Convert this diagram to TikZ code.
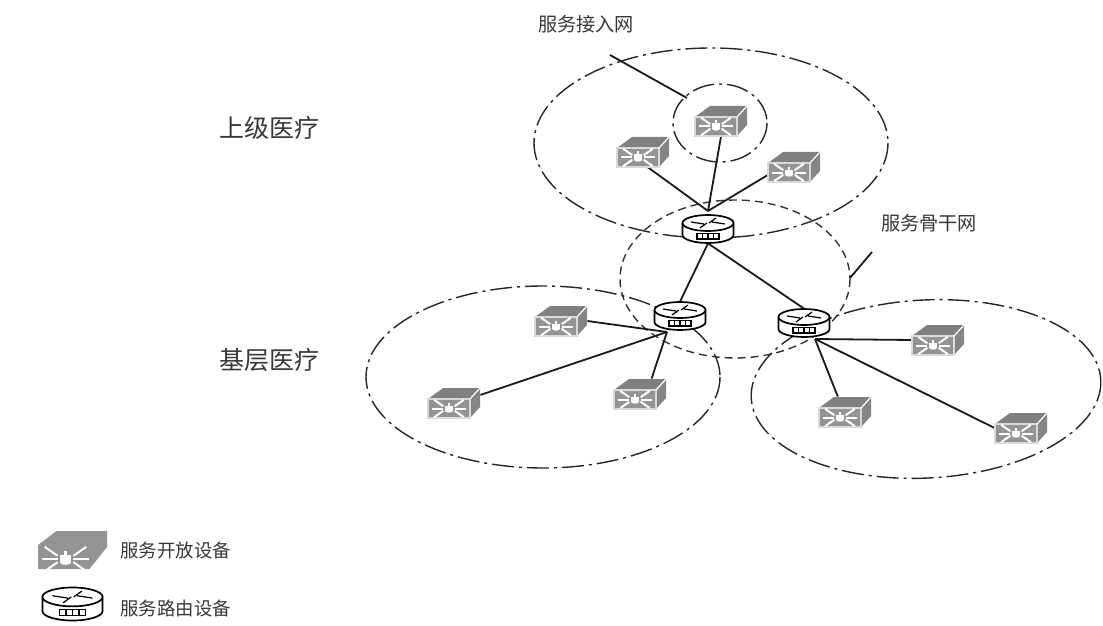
\documentclass[tikz,border=0pt]{standalone}
\usepackage{fontspec}
\setmainfont{Noto Sans CJK SC}
\usetikzlibrary{positioning, arrows.meta}
\definecolor{devfront}{gray}{0.58}
\definecolor{devtop}{gray}{0.5}
\definecolor{devside}{gray}{0.52}
\definecolor{inktext}{gray}{0.22}
\tikzset{
zone/.style={draw=black!85, line width=0.7pt, dash pattern=on 11pt off 2.5pt on 1.5pt off 2.5pt},
bonezone/.style={draw=black!80, line width=0.7pt, dash pattern=on 4pt off 2.5pt},
link/.style={draw=black!90, line width=0.9pt},
devnode/.style={shape=rectangle, minimum width=26pt, minimum height=15pt, inner sep=0},
routernode/.style={shape=rectangle, minimum width=26pt, minimum height=14pt, inner sep=0},
bigtext/.style={font=\fontsize{12.5}{14}\selectfont, text=inktext, inner sep=0},
midtext/.style={font=\fontsize{9.6}{12}\selectfont, text=inktext, inner sep=0},
keytext/.style={font=\fontsize{9.2}{12}\selectfont, text=inktext, inner sep=0},
devrays/.pic={
  \fill [white] (-5.5,-4) rectangle (5.5,3);
  \fill [white] (0,3) ellipse [x radius=5.5, y radius=2.5];
  \fill [white] (-1.2,-8) rectangle (1.2,-4);
  \foreach \ang/\off in {35/3, 0/0, -35/-3}{
    \draw [white, line width=1pt] (7.5,\off) -- +(\ang:15);
    \draw [white, line width=1pt] (-7.5,\off) -- +(180-\ang:15);
  }
},
devbox/.pic={
  \fill [devtop] (-26,-4) -- (-11,-15) -- (26,-15) -- (16,-4) -- cycle;
  \fill [devside] (16,-4) -- (26,-15) -- (26,4) -- (16,15) -- cycle;
  \fill [devfront] (-26,-4) rectangle (16,15);
  \draw [white!85!black, line width=0.6pt] (-26,-4) rectangle (16,15);
  \draw [white, line width=0.6pt] (16,-4) -- (26,-15);
  \pic [scale=0.75] at (-5,5.5) {devrays};
},
devflat/.pic={
  \fill [devfront] (-34.5,-5) -- (-16,-19) -- (34.5,-19) -- (34.5,-3) -- (17,19) -- (-34.5,19) -- cycle;
  \pic [scale=1.05] at (-7,9) {devrays};
},
routerbox/.pic={
  \draw [fill=white, line width=0.85pt] (-25.5,-6) -- (-25.5,6) arc [x radius=25.5, y radius=8, start angle=180, end angle=0] -- (25.5,-6);
  \draw [fill=white, line width=0.85pt] (0,-6) ellipse [x radius=25.5, y radius=8];
  \draw [line width=0.6pt] (-17,-7) -- (-4,-5) (17,-5) -- (4,-7) (-8,-1) -- (-1,-6) (8,-11) -- (1,-6);
  \draw [fill=white, line width=0.6pt] (-11,4.5) rectangle (11,10);
  \foreach \jx in {-5.5,0,5.5}{
    \draw [line width=0.6pt] (\jx,4.5) -- (\jx,10);
  }
},
}
\begin{document}
\begin{tikzpicture}[x=0.5pt, y=-0.5pt]
\useasboundingbox (0,0) rectangle (1103,626);

\draw [zone] (711,143) ellipse [x radius=177, y radius=95] node (zone-top) {};
\draw [zone] (720,123) ellipse [x radius=47, y radius=39] node (zone-open) {};
\draw [bonezone] (735,279) ellipse [x radius=115, y radius=79] node (zone-bone) {};
\draw [zone] (543,377) ellipse [x radius=177, y radius=91] node (zone-left) {};
\draw [zone, rotate around={3:(926,389)}] (926,389) ellipse [x radius=175, y radius=89] node (zone-right) {};

\foreach \jname/\jx/\jy in {box-a/721/121, box-b/643/152, box-c/794/167, box-d/561/321, box-e/640/394, box-f/454/403, box-g/938/340, box-h/845/412, box-i/1021/428}{
      \node [devnode] (\jname) at (\jx,\jy) {};
}
\foreach \jname/\jx/\jy in {router-a/708/229, router-b/680/316, router-c/804/323}{
      \node [routernode] (\jname) at (\jx,\jy) {};
}
\coordinate (hub-a) at (708,211);
\coordinate (hub-b) at (667,332);
\coordinate (hub-c) at (815,339);

% links
\draw [link] (box-a.south) -- (hub-a);
\draw [link] (box-b.-72) -- (hub-a);
\draw [link] (box-c.-163) -- (hub-a);
\draw [link] (box-d.east) -- (hub-b);
\draw [link] (box-e.53) -- (hub-b);
\draw [link] (box-f.17) -- (hub-b);
\draw [link] (box-g.west) -- (hub-c);
\draw [link] (box-h.115) -- (hub-c);
\draw [link] (box-i.west) -- (hub-c);
\draw [link] (router-a.south) -- (router-b.north);
\draw [link] (router-a.south) -- (router-c.north);

% devices
\foreach \jname in {box-a, box-b, box-c, box-d, box-e, box-f, box-g, box-h, box-i}{
      \pic at (\jname) {devbox};
}
\foreach \jname in {router-a, router-b, router-c}{
      \pic at (\jname) {routerbox};
}

% labels
\node [midtext] (access) at (586,24) {服务接入网};
\node [midtext] (bone) at (929,223) {服务骨干网};
\node [bigtext] (upper) at (269,128) {上级医疗};
\node [bigtext] (lower) at (269,360) {基层医疗};
\coordinate (access-end) at (610,55);
\coordinate (access-tip) at (687,98);
\coordinate (bone-end) at (872,252);
\coordinate (bone-tip) at (850,278);
\draw [link] (access-end) -- (access-tip);
\draw [link] (bone-end) -- (bone-tip);

% legend
\node [devnode] (key-box) at (72.5,550) {};
\pic at (key-box) {devflat};
\node [routernode] (key-router) at (72.5,604) {};
\pic [scale=1.18] at (key-router) {routerbox};
\node [keytext, anchor=west] (key-box-text) at (120,551) {服务开放设备};
\node [keytext, anchor=west] (key-router-text) at (120,609) {服务路由设备};
\end{tikzpicture}
\end{document}
